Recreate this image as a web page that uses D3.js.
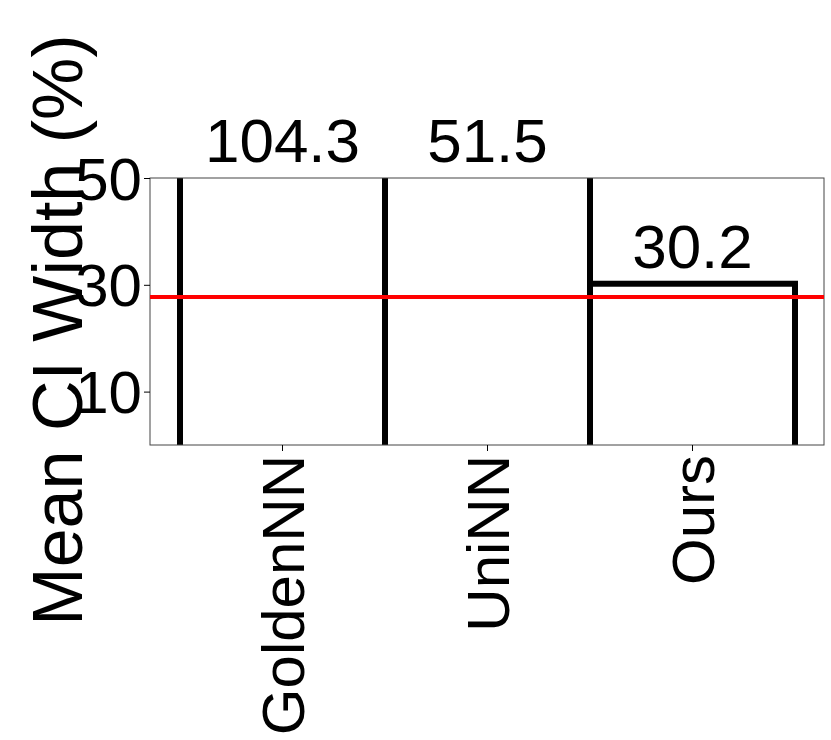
<!DOCTYPE html>
<html><head><meta charset="utf-8">
<script src="https://cdn.jsdelivr.net/npm/d3@7"></script>
<style>body{margin:0;background:#fff}</style></head>
<body><svg id="c" width="831" height="740"></svg>
<script>
const categories = ["GoldenNN", "UniNN", "Ours"];
const values = [104.3, 51.5, 30.2];
const yTicks = [10, 30, 50];
const refLine = 27.7;

const svg = d3.select("#c");
const font = "Liberation Sans, Arial, sans-serif";
const L = 150, R = 824, T = 178, B = 445;
const x = d3.scaleBand().domain(categories).range([180, 795]).padding(0);
const y = d3.scaleLinear().domain([0, 50]).range([B, T]);

svg.append("defs").append("clipPath").attr("id","clip")
  .append("rect").attr("x",L).attr("y",T).attr("width",R-L).attr("height",B-T);

const g = svg.append("g").attr("clip-path","url(#clip)");
g.selectAll("rect.bar").data(categories).join("rect")
  .attr("x", d => x(d)).attr("width", x.bandwidth())
  .attr("y", (d,i) => y(values[i])).attr("height", (d,i) => B - y(values[i]) + 10)
  .attr("fill","none").attr("stroke","#000").attr("stroke-width",6);

svg.append("rect").attr("x",L).attr("y",T).attr("width",R-L).attr("height",B-T)
  .attr("fill","none").attr("stroke","#444").attr("stroke-width",1);

svg.append("line").attr("x1",L).attr("x2",R).attr("y1",y(refLine)).attr("y2",y(refLine))
  .attr("stroke","#ff0000").attr("stroke-width",4);

const ya = svg.append("g").attr("transform",`translate(${L},0)`)
  .call(d3.axisLeft(y).tickValues(yTicks).tickSize(6).tickFormat(d3.format("d")));
ya.select(".domain").remove();
ya.selectAll("text").attr("font-size",60).attr("font-family",font).attr("fill","#000").attr("dy","0.35em").attr("x",-8);

const xa = svg.append("g").attr("transform",`translate(0,${B})`)
  .call(d3.axisBottom(x).tickSize(6));
xa.select(".domain").remove();
xa.selectAll("text").attr("font-size",60).attr("font-family",font).attr("fill","#000")
  .attr("transform","rotate(-90)").attr("text-anchor","end").attr("x",-10).attr("y",0).attr("dy","0.35em");

svg.selectAll("text.val").data(categories).join("text")
  .attr("x", d => x(d) + x.bandwidth()/2)
  .attr("y", (d,i) => values[i] > 50 ? 162 : y(values[i]) - 16)
  .attr("text-anchor","middle").attr("font-size",62).attr("font-family",font)
  .text((d,i) => values[i].toFixed(1));

svg.append("text").attr("transform","translate(82,330) rotate(-90)")
  .attr("text-anchor","middle").attr("font-size",70).attr("font-family",font)
  .text("Mean CI Width (%)");
</script></body></html>
